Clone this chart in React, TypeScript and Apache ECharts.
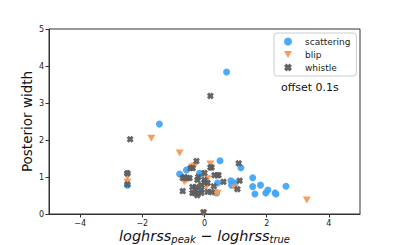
import React, { useEffect, useRef } from "react";
import * as echarts from "echarts";

const xTicks = [-4, -2, 0, 2, 4];

const scattering: [number, number][] = [
  [0.71, 3.84], [-1.45, 2.43], [-2.48, 0.78], [-2.48, 1.1], [-0.8, 1.08], [-0.58, 1.19],
  [0.5, 1.44], [1.17, 1.25], [1.55, 0.98], [1.8, 0.78], [1.55, 0.74], [1.62, 0.54],
  [1.97, 0.57], [2.04, 0.65], [2.27, 0.57], [2.3, 0.54], [2.62, 0.75], [0.87, 0.78],
  [0.97, 0.84], [-0.16, 1.1], [-0.1, 1.08], [0.42, 0.84], [0.39, 0.57], [-0.23, 0.57],
  [0.85, 0.9],
];

const blip: [number, number][] = [
  [-1.71, 2.05], [-0.8, 1.65], [-2.48, 1.0], [-2.48, 0.86], [3.29, 0.38], [0.19, 1.35],
  [-0.32, 1.3], [-0.65, 0.87], [0.06, 0.73], [0.32, 0.57], [-0.03, 0.02], [0.42, 0.56],
  [0.97, 0.7], [-0.58, 0.92], [-0.39, 1.27], [0.1, 0.95],
];

const whistle: [number, number][] = [
  [0.19, 3.19], [-2.39, 2.02], [-2.48, 1.1], [-2.48, 0.8], [1.1, 1.37], [1.13, 0.9],
  [1.06, 0.67], [0.19, 1.26], [0.32, 1.05], [0.45, 1.05], [0.61, 0.87], [-0.03, 0.05],
  [-0.7, 0.62], [-0.7, 0.97], [-0.55, 0.97], [-0.38, 1.24], [-0.26, 1.43], [-0.32, 0.57],
  [-0.26, 0.73], [-0.23, 0.51], [-0.1, 0.78], [0.0, 0.86], [0.1, 0.84], [0.42, 1.05],
  [-0.23, 0.92], [0.0, 0.92], [-0.1, 0.57], [-0.39, 0.57], [-0.39, 0.73], [0.23, 0.59],
  [-0.48, 0.97], [-0.64, 1.0], [0.0, 1.11], [-0.45, 1.24], [0.23, 1.26], [-0.1, 0.65],
  [0.1, 0.6], [-0.3, 0.65], [-0.2, 1.0], [0.3, 0.75],
];

const X_PATH =
  "path://M0,3 L3,0 L5,2 L7,0 L10,3 L8,5 L10,7 L7,10 L5,8 L3,10 L0,7 L2,5 Z";
const TRI_DOWN = "path://M0,0 L10,0 L5,9 Z";

const FONT = "DejaVu Sans";

export default function App() {
  const ref = useRef<HTMLDivElement>(null);
  useEffect(() => {
    if (!ref.current) return;
    const chart = echarts.init(ref.current, undefined, { renderer: "svg" });
    const fmt = (v: number) => String(v).replace("-", "\u2212");
    chart.setOption({
      animation: false,
      textStyle: { fontFamily: FONT },
      grid: {
        left: 49,
        right: 39,
        top: 29,
        bottom: 31,
        outerBoundsMode: "none",
        containLabel: false,
        show: true,
        borderColor: "#333",
        borderWidth: 1,
        backgroundColor: "transparent",
      },
      legend: {
        left: 274,
        top: 33,
        orient: "vertical",
        padding: [4, 6, 4, 10],
        itemGap: 4,
        itemWidth: 8,
        itemHeight: 8,
        borderColor: "#ccc",
        borderWidth: 1,
        borderRadius: 3,
        textStyle: { fontSize: 9, fontFamily: FONT, color: "#222", padding: [0, 0, 0, 8] },
        data: ["scattering", "blip", "whistle"],
      },
      graphic: [
        {
          type: "text",
          left: 281,
          top: 82,
          style: { text: "offset 0.1s", fontSize: 11, fontFamily: FONT, fill: "#111" },
        },
      ],
      xAxis: {
        type: "value",
        min: -5,
        max: 5,
        splitLine: { show: false },
        axisLine: { show: true, onZero: false, lineStyle: { color: "#333" } },
        axisTick: { show: true, length: 3.5, customValues: xTicks, lineStyle: { color: "#333" } },
        axisLabel: {
          customValues: xTicks,
          fontSize: 8,
          color: "#222",
          margin: 5,
          formatter: fmt,
        },
        name: "{i|loghrss}{s|peak}{i| \u2212 loghrss}{s|true}",
        nameLocation: "middle",
        nameMoveOverlap: false,
        nameGap: 13,
        nameTextStyle: {
          rich: {
            i: { fontSize: 14.5, fontStyle: "italic", fontFamily: FONT, color: "#111" },
            s: {
              fontSize: 10,
              fontStyle: "italic",
              fontFamily: FONT,
              color: "#111",
              padding: [7, 0, 0, 0],
            },
          },
        },
      },
      yAxis: {
        type: "value",
        min: 0,
        max: 5,
        interval: 1,
        splitLine: { show: false },
        axisLine: { show: true, onZero: false, lineStyle: { color: "#333" } },
        axisTick: { show: true, length: 3.5, lineStyle: { color: "#333" } },
        axisLabel: { fontSize: 8, color: "#222", margin: 5, formatter: fmt },
        name: "Posterior width",
        nameLocation: "middle",
        nameMoveOverlap: false,
        nameGap: 15,
        nameTextStyle: { fontSize: 13.5, fontFamily: FONT, color: "#111" },
      },
      series: [
        {
          name: "scattering",
          type: "scatter",
          data: scattering,
          symbol: "circle",
          symbolSize: 7,
          itemStyle: { color: "#42a5f5", opacity: 0.95 },
        },
        {
          name: "blip",
          type: "scatter",
          data: blip,
          symbol: TRI_DOWN,
          symbolSize: [8, 7],
          itemStyle: { color: "#f4995a", opacity: 0.95 },
        },
        {
          name: "whistle",
          type: "scatter",
          data: whistle,
          symbol: X_PATH,
          symbolSize: 7,
          itemStyle: { color: "#5e5e5e", opacity: 0.95 },
        },
      ],
    });
    return () => chart.dispose();
  }, []);
  return (
    <div
      ref={ref}
      style={{ position: "absolute", left: 0, top: 0, width: 399, height: 245 }}
    />
  );
}
